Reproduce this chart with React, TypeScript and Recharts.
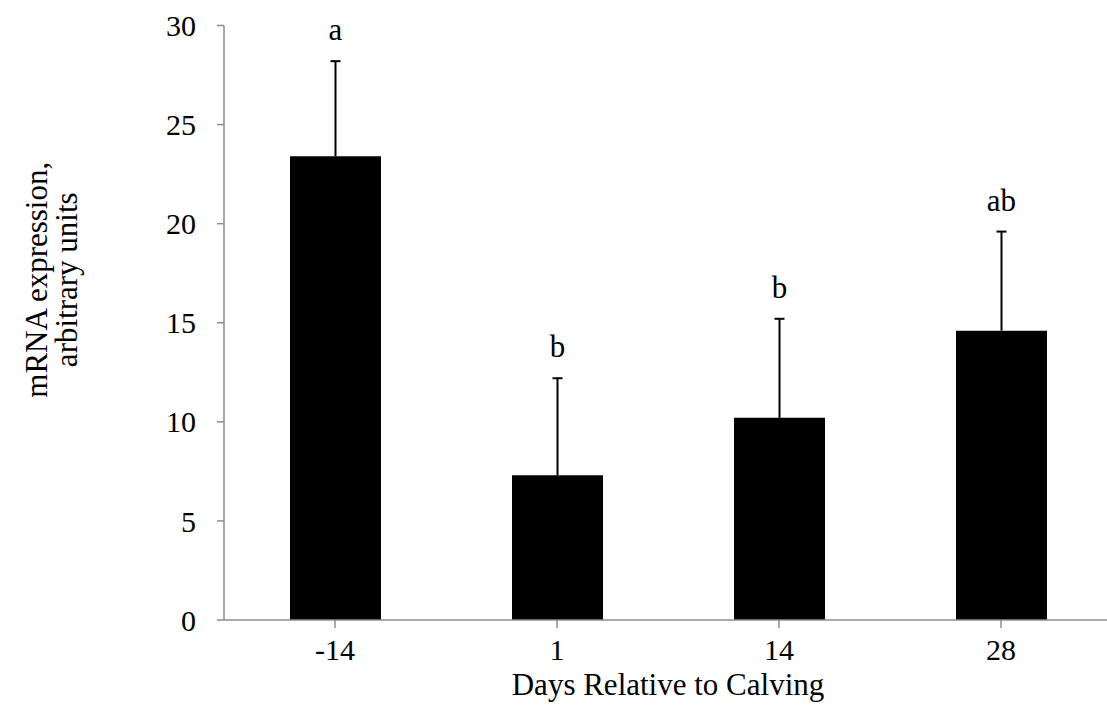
import React from 'react'
import { BarChart, Bar, XAxis, YAxis } from 'recharts'

const days = ['-14', '1', '14', '28']
const meanValues = [23.4, 7.3, 10.2, 14.6]
const errorValues = [4.8, 4.9, 5.0, 5.0]
const letters = ['a', 'b', 'b', 'ab']
const yTicks = [0, 5, 10, 15, 20, 25, 30]

const data = days.map((day, i) => ({
  day,
  mean: meanValues[i],
  err: errorValues[i],
  letter: letters[i],
}))

const FONT = '"Liberation Serif", "Times New Roman", serif'
const AXIS = '#8c8c8c'

// error bar (upper half only) + significance letter, drawn on a stacked invisible bar
// eslint-disable-next-line @typescript-eslint/no-explicit-any
const ErrorShape = (props: any) => {
  const { x, y, width, height, payload } = props
  const cx = x + width / 2
  return (
    <g>
      <line x1={cx} x2={cx} y1={y} y2={y + height} stroke="#000" strokeWidth={2} />
      <line x1={cx - 5} x2={cx + 5} y1={y} y2={y} stroke="#000" strokeWidth={2} />
      <text
        x={cx}
        y={y - 21}
        textAnchor="middle"
        fontFamily={FONT}
        fontSize={31}
        fill="#000"
      >
        {payload.letter}
      </text>
    </g>
  )
}

// eslint-disable-next-line @typescript-eslint/no-explicit-any
const YTitle = (props: any) => {
  const { viewBox } = props
  const cy = viewBox.y + viewBox.height / 2 - 43
  return (
    <text
      transform={`rotate(-90, 52, ${cy})`}
      x={52}
      y={cy}
      textAnchor="middle"
      fontFamily={FONT}
      fontSize={31}
      fill="#000"
    >
      <tspan x={52} dy={-5}>mRNA expression,</tspan>
      <tspan x={52} dy={30}>arbitrary units</tspan>
    </text>
  )
}

// eslint-disable-next-line @typescript-eslint/no-explicit-any
const XTitle = (props: any) => {
  const { viewBox } = props
  return (
    <text
      x={viewBox.x + viewBox.width / 2}
      y={695}
      textAnchor="middle"
      fontFamily={FONT}
      fontSize={31}
      fill="#000"
    >
      Days Relative to Calving
    </text>
  )
}

export default function App() {
  return (
    <div
      style={{
        position: 'fixed',
        left: 0,
        top: 0,
        width: 1107,
        height: 712,
        overflow: 'hidden',
        background: '#fff',
      }}
    >
      <BarChart
        width={1112}
        height={712}
        data={data}
        margin={{ top: 25.5, right: 0, left: 0, bottom: 0 }}
        barSize={91}
      >
        <XAxis
          dataKey="day"
          height={92}
          stroke={AXIS}
          strokeWidth={1.5}
          tickSize={8}
          tickMargin={11}
          tick={{ fill: '#000', fontSize: 30, fontFamily: FONT }}
          label={<XTitle />}
        />
        <YAxis
          domain={[0, 30]}
          ticks={yTicks}
          width={224}
          stroke={AXIS}
          strokeWidth={1.5}
          tickSize={7}
          tickMargin={21}
          tick={{ fill: '#000', fontSize: 30, fontFamily: FONT }}
          label={<YTitle />}
          interval={0}
        />
        <Bar dataKey="mean" stackId="s" fill="#000" isAnimationActive={false} />
        <Bar
          dataKey="err"
          stackId="s"
          fill="none"
          shape={<ErrorShape />}
          isAnimationActive={false}
        />
      </BarChart>
    </div>
  )
}
